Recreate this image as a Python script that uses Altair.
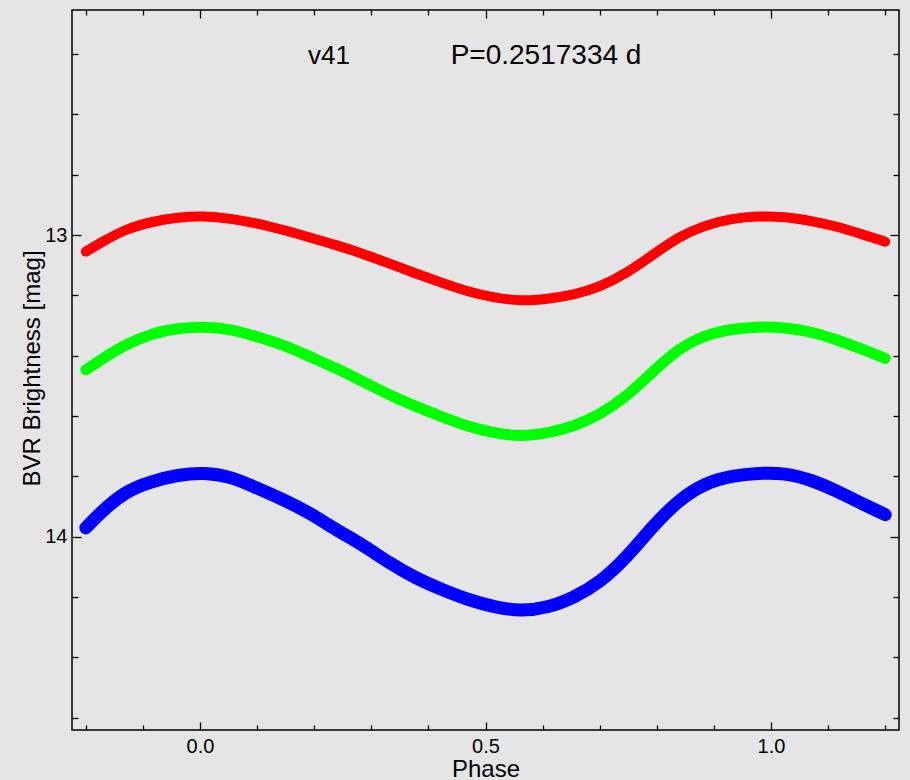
import altair as alt
import pandas as pd

# Phase grid (phase-folded light curves)
phase = [-0.200, -0.178, -0.132, -0.085, -0.039, 0.007, 0.053, 0.100, 0.146, 0.192,
         0.238, 0.284, 0.331, 0.377, 0.423, 0.469, 0.516, 0.562, 0.608, 0.654,
         0.700, 0.747, 0.793, 0.839, 0.885, 0.932, 0.978, 1.024, 1.070, 1.117,
         1.163, 1.200]

r_mag = [13.055, 13.030, 12.981, 12.956, 12.941, 12.937, 12.945, 12.961, 12.983, 13.008,
         13.033, 13.061, 13.094, 13.127, 13.158, 13.188, 13.208, 13.219, 13.212, 13.199,
         13.173, 13.127, 13.066, 13.005, 12.967, 12.945, 12.937, 12.939, 12.953, 12.972,
         13.000, 13.022]

v_mag = [13.447, 13.419, 13.364, 13.326, 13.309, 13.304, 13.311, 13.337, 13.364, 13.403,
         13.441, 13.485, 13.530, 13.568, 13.602, 13.635, 13.657, 13.668, 13.657, 13.635,
         13.596, 13.536, 13.453, 13.375, 13.331, 13.311, 13.304, 13.306, 13.320, 13.348,
         13.381, 13.409]

b_mag = [13.971, 13.927, 13.850, 13.817, 13.795, 13.787, 13.800, 13.839, 13.877, 13.921,
         13.977, 14.026, 14.087, 14.137, 14.175, 14.209, 14.234, 14.247, 14.236, 14.203,
         14.153, 14.070, 13.965, 13.877, 13.822, 13.798, 13.789, 13.789, 13.811, 13.850,
         13.894, 13.927]

bands = ["R", "V", "B"]
band_colors = ["#ff0000", "#00ff00", "#0000ff"]

# Annotation texts (in data coordinates)
ann_text = ["v41", "P=0.2517334 d"]
ann_phase = [0.226, 0.606]
ann_mag = [12.407, 12.407]

x_major = [0.0, 0.5, 1.0]
x_minor = [-0.2, -0.1, 0.1, 0.2, 0.3, 0.4, 0.6, 0.7, 0.8, 0.9, 1.1, 1.2]
y_major = [13, 14]
y_minor = [12.4, 12.6, 12.8, 13.2, 13.4, 13.6, 13.8, 14.2, 14.4, 14.6]

rows = []
for b, mags in zip(bands, [r_mag, v_mag, b_mag]):
    for p, m in zip(phase, mags):
        rows.append({"phase": p, "mag": m, "band": b})
df = pd.DataFrame(rows)
ann = pd.DataFrame({"text": ann_text, "phase": ann_phase, "mag": ann_mag})

xs = alt.Scale(domain=[-0.2242, 1.2242], nice=False, zero=False)
ys = alt.Scale(domain=[12.254, 14.641], reverse=True, nice=False, zero=False)

FONT = "Liberation Sans"


def tick_axis(orient, values, size):
    return alt.Axis(orient=orient, values=values, labels=False, domain=False, grid=False,
                    ticks=True, tickSize=size, offset=-size, tickColor="#000000",
                    tickWidth=1.3, title=None)


x_label_axis = alt.Axis(orient="bottom", values=x_major, format=".1f", ticks=False, domain=False,
                        grid=False, labelFont=FONT, labelFontSize=20, labelColor="#000000",
                        labelPadding=6, title="Phase", titleFont=FONT, titleFontSize=24,
                        titleFontWeight="normal", titleColor="#000000",
                        titleBaseline="alphabetic", titleY=46)
y_label_axis = alt.Axis(orient="left", values=y_major, format="d", ticks=False, domain=False,
                        grid=False, labelFont=FONT, labelFontSize=20, labelColor="#000000",
                        labelPadding=5, title="BVR Brightness [mag]", titleFont=FONT,
                        titleFontSize=24, titleFontWeight="normal", titleColor="#000000",
                        titleAngle=270, titleBaseline="alphabetic", titleX=-33, titleY=358)


def band_line(b, color, width, xaxis, yaxis):
    return alt.Chart(df).transform_filter(alt.datum.band == b).mark_line(
        color=color, strokeWidth=width, interpolate="basis", strokeCap="round"
    ).encode(
        x=alt.X("phase:Q", scale=xs, axis=xaxis),
        y=alt.Y("mag:Q", scale=ys, axis=yaxis),
    )


red = band_line("R", band_colors[0], 10, x_label_axis, y_label_axis)
green = band_line("V", band_colors[1], 11,
                  tick_axis("bottom", x_major, 8), tick_axis("left", y_major, 9))
blue = band_line("B", band_colors[2], 13,
                 tick_axis("bottom", x_minor, 5), tick_axis("left", y_minor, 6))

t1 = alt.Chart(ann).transform_filter(alt.datum.text == ann_text[0]).mark_text(
    font=FONT, fontSize=26, color="#000000", baseline="middle", align="center"
).encode(
    x=alt.X("phase:Q", scale=xs, axis=tick_axis("top", x_major, 8)),
    y=alt.Y("mag:Q", scale=ys, axis=tick_axis("right", y_major, 9)),
    text="text:N",
)
t2 = alt.Chart(ann).transform_filter(alt.datum.text == ann_text[1]).mark_text(
    font=FONT, fontSize=28, color="#000000", baseline="middle", align="center"
).encode(
    x=alt.X("phase:Q", scale=xs, axis=tick_axis("top", x_minor, 5)),
    y=alt.Y("mag:Q", scale=ys, axis=tick_axis("right", y_minor, 6)),
    text="text:N",
)

chart = alt.layer(red, green, blue, t1, t2).resolve_axis(
    x="independent", y="independent"
).properties(
    width=827, height=720,
    autosize=alt.AutoSizeParams(type="none"),
    padding={"left": 72, "top": 10, "right": 11, "bottom": 50},
    background="#e5e5e5",
).configure_view(
    stroke="#000000", strokeWidth=1.5, fill="#e5e5e5"
)

chart.save("out.html", embed_options={"renderer": "svg", "actions": False})
